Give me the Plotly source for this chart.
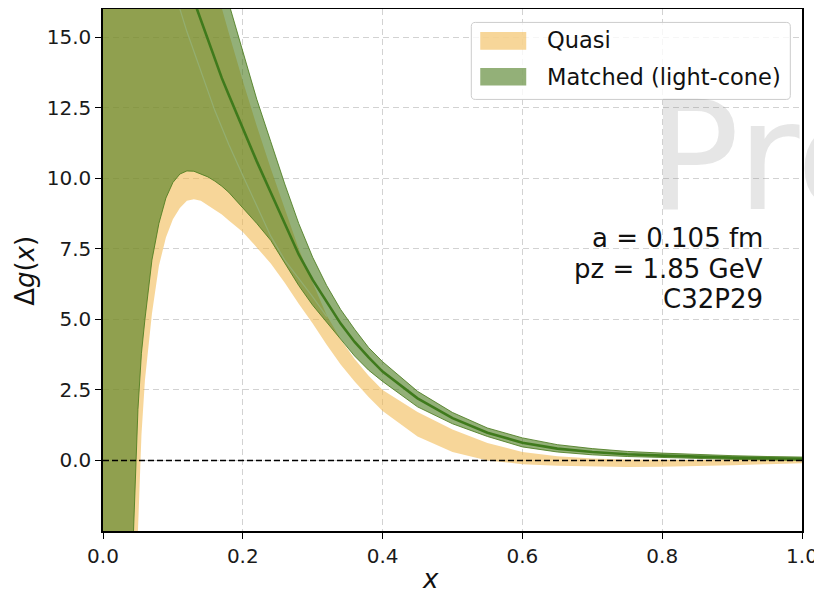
import plotly.graph_objects as go

# ---------------- data ----------------
x_vals = [0.0, 0.02, 0.04, 0.045, 0.05, 0.055, 0.06, 0.07, 0.08, 0.09,
          0.10, 0.11, 0.12, 0.13, 0.14, 0.15, 0.16, 0.17, 0.18, 0.20,
          0.22, 0.24, 0.26, 0.28, 0.30, 0.32, 0.34, 0.36, 0.38, 0.40,
          0.45, 0.50, 0.55, 0.60, 0.65, 0.70, 0.75, 0.80, 0.85, 0.90,
          0.95, 1.00]

quasi_lower = [-40, -25, -12, -6, -2.5, 0.9, 2.84, 5.2, 6.9, 7.9,
               8.55, 8.95, 9.2, 9.26, 9.2, 9.05, 8.9, 8.72, 8.5, 8.1,
               7.55, 6.98, 6.3, 5.55, 4.85, 4.1, 3.4, 2.8, 2.25, 1.75,
               0.85, 0.3, 0.0, -0.13, -0.19, -0.22, -0.23, -0.22, -0.2, -0.17,
               -0.13, -0.1]

quasi_upper = [90, 80, 70, 68, 65, 62, 60, 52, 45, 38,
               32, 27, 23, 20.5, 19.2, 18.0, 16.9, 16.0, 15.15, 13.45,
               11.85, 10.35, 8.9, 7.5, 6.3, 5.15, 4.3, 3.6, 3.0, 2.5,
               1.72, 1.1, 0.62, 0.3, 0.15, 0.07, 0.03, 0.02, 0.02, 0.03,
               0.04, 0.05]

quasi_seam = [None, None, None, None, None, None, None, None, None, None,
              16.8, 16.0, 15.2, 14.5, 13.8, 13.1, 12.4, 11.8, 11.2, 10.1,
              9.0, 7.95, 7.1, 6.45, 5.8, 5.1, None, None, None, None,
              None, None, None, None, None, None, None, None, None, None,
              None, None]

matched_lower = [-40, -20, -5, -1.2, 1.8, 3.8, 5.0, 7.1, 8.4, 9.3,
                 9.85, 10.15, 10.26, 10.25, 10.15, 10.05, 9.9, 9.72, 9.5, 8.95,
                 8.4, 7.8, 7.0, 6.2, 5.5, 4.9, 4.3, 3.7, 3.2, 2.8,
                 1.9, 1.3, 0.85, 0.48, 0.3, 0.2, 0.14, 0.1, 0.07, 0.04,
                 0.02, 0.0]

matched_upper = [80, 70, 60, 58, 55, 52, 50, 45, 40, 36,
                 32, 28.5, 25.5, 23, 21, 19.3, 18.2, 17.1, 16.2, 14.5,
                 12.8, 11.3, 9.8, 8.4, 7.2, 6.2, 5.35, 4.65, 4.0, 3.5,
                 2.45, 1.7, 1.15, 0.8, 0.56, 0.42, 0.32, 0.26, 0.21, 0.17,
                 0.14, 0.12]

matched_central = [45, 38, 32, 30.5, 29, 27.5, 26.2, 24, 22, 20.4,
                   19.0, 18.0, 17.0, 16.3, 15.6, 14.9, 14.2, 13.55, 12.95, 11.75,
                   10.6, 9.5, 8.4, 7.3, 6.4, 5.6, 4.85, 4.2, 3.65, 3.15,
                   2.2, 1.5, 0.98, 0.63, 0.42, 0.3, 0.22, 0.17, 0.13, 0.1,
                   0.08, 0.06]

x_ticks = [0.0, 0.2, 0.4, 0.6, 0.8, 1.0]
x_ticklabels = ["0.0", "0.2", "0.4", "0.6", "0.8", "1.0"]
y_ticks = [0.0, 2.5, 5.0, 7.5, 10.0, 12.5, 15.0]
y_ticklabels = ["0.0", "2.5", "5.0", "7.5", "10.0", "12.5", "15.0"]

legend_labels = ["Quasi", "Matched (light-cone)"]
info_lines = ["a = 0.105 fm", "pz = 1.85 GeV", "C32P29"]
watermark = "Preliminary"

# ---------------- styles ----------------
FONT = "DejaVu Sans"
ORANGE_FILL = "rgba(240,180,70,0.55)"
GREEN_FILL = "rgba(75,123,30,0.6)"
GREEN_EDGE = "rgba(75,123,30,0.85)"
GREEN_LINE = "#3f7a1c"

fig = go.Figure()

# Quasi band
fig.add_trace(go.Scatter(x=x_vals, y=quasi_lower, mode="lines",
                         line=dict(width=0, color=ORANGE_FILL),
                         showlegend=False, hoverinfo="skip"))
fig.add_trace(go.Scatter(x=x_vals, y=quasi_upper, mode="lines",
                         fill="tonexty", fillcolor=ORANGE_FILL,
                         line=dict(width=0, color=ORANGE_FILL),
                         name=legend_labels[0], showlegend=False, hoverinfo="skip"))
# seam inside quasi band
fig.add_trace(go.Scatter(x=x_vals, y=quasi_seam, mode="lines",
                         line=dict(width=1.2, color="rgba(255,250,235,1)"),
                         showlegend=False, hoverinfo="skip", connectgaps=False))

# Matched band
fig.add_trace(go.Scatter(x=x_vals, y=matched_lower, mode="lines",
                         line=dict(width=1, color=GREEN_EDGE),
                         showlegend=False, hoverinfo="skip"))
fig.add_trace(go.Scatter(x=x_vals, y=matched_upper, mode="lines",
                         fill="tonexty", fillcolor=GREEN_FILL,
                         line=dict(width=1, color=GREEN_EDGE),
                         name=legend_labels[1], showlegend=False,
                         hoverinfo="skip"))
fig.add_trace(go.Scatter(x=x_vals, y=matched_central, mode="lines",
                         line=dict(width=2.6, color=GREEN_LINE),
                         showlegend=False, hoverinfo="skip"))

# zero reference line
fig.add_hline(y=0, line=dict(color="black", width=1.5, dash="6px,3px"), layer="above")

axis_common = dict(
    showline=True, linecolor="black", linewidth=1.5, mirror=True,
    ticks="outside", ticklen=6, tickwidth=1.3, tickcolor="black",
    showgrid=True, gridcolor="#d2d2d2", gridwidth=1, griddash="6px,4px",
    zeroline=False, automargin=False,
    tickfont=dict(family=FONT, size=20, color="#1a1a1a"),
)

fig.update_xaxes(range=[0, 1], tickvals=x_ticks, ticktext=x_ticklabels, **axis_common)
fig.update_yaxes(range=[-2.5, 16], tickvals=y_ticks, ticktext=y_ticklabels, **axis_common)

# axis titles
fig.add_annotation(x=0.468, y=-0.091, xref="paper", yref="paper", text="<i>x</i>",
                   showarrow=False, xanchor="center", yanchor="middle",
                   font=dict(family=FONT, size=26, color="#111111"))
fig.add_annotation(x=-0.1126, y=0.499, xref="paper", yref="paper",
                   text="Δ<i>g</i>(<i>x</i>)", textangle=-90,
                   showarrow=False, xanchor="center", yanchor="middle",
                   font=dict(family=FONT, size=26, color="#111111"))

# watermark
fig.add_annotation(x=0.777, y=0.717, xref="paper", yref="paper",
                   text=watermark, showarrow=False, xanchor="left", yanchor="middle",
                   font=dict(family=FONT, size=152, color="rgba(128,128,128,0.2)"))

# info text, one line per annotation
info_y = [7.9, 6.8, 5.72]
for txt, yy in zip(info_lines, info_y):
    fig.add_annotation(x=0.9475, y=yy, xref="x", yref="y", text=txt,
                       showarrow=False, xanchor="right", yanchor="middle",
                       font=dict(family=FONT, size=26, color="#111111"))

# legend drawn manually (matplotlib-style frame and patches)
lx0, lx1, ly0, ly1 = 0.5269, 0.9833, 0.8268, 0.9743
rx, ry = 0.0057, 0.0077
legend_path = (f"M {lx0+rx},{ly0} L {lx1-rx},{ly0} Q {lx1},{ly0} {lx1},{ly0+ry} "
               f"L {lx1},{ly1-ry} Q {lx1},{ly1} {lx1-rx},{ly1} "
               f"L {lx0+rx},{ly1} Q {lx0},{ly1} {lx0},{ly1-ry} "
               f"L {lx0},{ly0+ry} Q {lx0},{ly0} {lx0+rx},{ly0} Z")
fig.add_shape(type="path", path=legend_path, xref="paper", yref="paper",
              fillcolor="rgba(255,255,255,0.8)", line=dict(color="#cccccc", width=1),
              layer="above")
fig.add_shape(type="rect", xref="paper", yref="paper",
              x0=0.5397, x1=0.6055, y0=0.922, y1=0.9557,
              fillcolor=ORANGE_FILL, line=dict(width=0), layer="above")
fig.add_shape(type="rect", xref="paper", yref="paper",
              x0=0.5397, x1=0.6055, y0=0.8536, y1=0.8868,
              fillcolor=GREEN_FILL, line=dict(width=0), layer="above")
fig.add_annotation(x=0.6328, y=0.9398, xref="paper", yref="paper", text=legend_labels[0],
                   showarrow=False, xanchor="left", yanchor="middle",
                   font=dict(family=FONT, size=22.5, color="#111111"))
fig.add_annotation(x=0.6328, y=0.870, xref="paper", yref="paper", text=legend_labels[1],
                   showarrow=False, xanchor="left", yanchor="middle",
                   font=dict(family=FONT, size=22.5, color="#111111"))

# the page body adds an 8px offset, so the figure is sized to fit the window
fig.update_layout(
    width=814, height=588,
    margin=dict(l=95, r=20, t=1, b=65),
    paper_bgcolor="white", plot_bgcolor="white",
    font=dict(family=FONT),
    showlegend=False,
)

fig.write_html("out.html")
